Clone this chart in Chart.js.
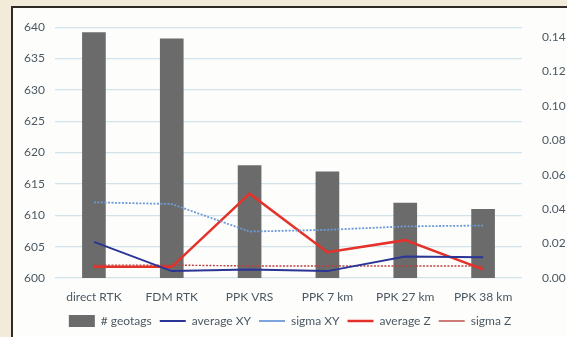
<!DOCTYPE html>
<html>
<head>
<meta charset="utf-8">
<script src="https://cdn.jsdelivr.net/npm/chart.js@4"></script>
<style>
  html, body { margin: 0; padding: 0; }
  body { width: 567px; height: 337px; background: #f3ebd9; overflow: hidden; position: relative; }
  #frame {
    position: absolute; left: 11px; top: 6px; width: 560px; height: 340px;
    border-left: 2px solid #2e2a26; border-top: 2px solid #2e2a26;
    background: #fdfdfc;
  }
  #wrap { position: absolute; left: 0; top: 0; width: 554px; height: 329px; }
</style>
</head>
<body>
<div id="frame"><div id="wrap"><canvas id="chart"></canvas></div></div>
<script>
const categories = ['direct RTK', 'FDM RTK', 'PPK VRS', 'PPK 7 km', 'PPK 27 km', 'PPK 38 km'];
const geotags = [639.2, 638.2, 618, 617, 612, 611];
const averageXY = [0.021, 0.004, 0.005, 0.004, 0.0125, 0.012];
const sigmaXY = [0.044, 0.043, 0.027, 0.028, 0.030, 0.0305];
const averageZ = [0.0065, 0.0065, 0.049, 0.015, 0.022, 0.005];
const sigmaZ = [0.0075, 0.0075, 0.007, 0.007, 0.007, 0.007];
const leftTicks = [600, 605, 610, 615, 620, 625, 630, 635, 640];
const rightTicks = [0, 0.02, 0.04, 0.06, 0.08, 0.10, 0.12, 0.14];

const textColor = '#4b5862';
const font = { family: 'Lato, "Open Sans", sans-serif', size: 12 };

const lineSet = (label, data, color, width, dash) => ({
  type: 'line',
  label,
  data,
  yAxisID: 'y1',
  borderColor: color,
  backgroundColor: color,
  borderWidth: width,
  borderDash: dash,
  pointRadius: 0,
  pointStyle: 'line',
  tension: 0,
  order: 0
});

new Chart(document.getElementById('chart'), {
  type: 'bar',
  data: {
    labels: categories,
    datasets: [
      {
        label: '# geotags',
        data: geotags,
        yAxisID: 'y',
        backgroundColor: '#6b6b6b',
        pointStyle: 'rect',
        barPercentage: 0.38,
        categoryPercentage: 0.8,
        order: 1
      },
      lineSet('average XY', averageXY, '#2a3596', 2, []),
      lineSet('sigma XY', sigmaXY, '#6d9bd8', 1.8, [2, 1.5]),
      lineSet('average Z', averageZ, '#e4322b', 2.5, []),
      lineSet('sigma Z', sigmaZ, '#b8423f', 1.4, [2, 1.5])
    ]
  },
  options: {
    responsive: true,
    maintainAspectRatio: false,
    animation: false,
    layout: { padding: { top: 16, left: 0, right: 0, bottom: 0 } },
    plugins: {
      tooltip: { enabled: false },
      legend: {
        position: 'bottom',
        labels: {
          usePointStyle: true,
          pointStyleWidth: 26,
          color: textColor,
          font,
          padding: 8,
          sort: (a, b) => a.datasetIndex - b.datasetIndex
        }
      }
    },
    scales: {
      x: {
        grid: { display: false, drawTicks: false },
        border: { display: false },
        afterFit: (scale) => { scale.height = 29; },
        ticks: { color: textColor, font, padding: 12, maxRotation: 0 }
      },
      y: {
        position: 'left',
        min: 600,
        max: 640,
        border: { display: false },
        grid: { color: '#d3e3ea', lineWidth: 1.2, drawTicks: false },
        afterBuildTicks: (scale) => { scale.ticks = leftTicks.map(v => ({ value: v })); },
        afterFit: (scale) => { scale.width = 42; },
        ticks: { color: textColor, font, padding: 10, callback: (v) => v }
      },
      y1: {
        position: 'right',
        min: 0,
        max: 0.1458,
        border: { display: false },
        grid: { display: false },
        afterBuildTicks: (scale) => { scale.ticks = rightTicks.map(v => ({ value: v })); },
        afterFit: (scale) => { scale.width = 45; },
        ticks: { color: textColor, font, padding: 12, callback: (v) => v.toFixed(2) }
      }
    }
  }
});
</script>
</body>
</html>
